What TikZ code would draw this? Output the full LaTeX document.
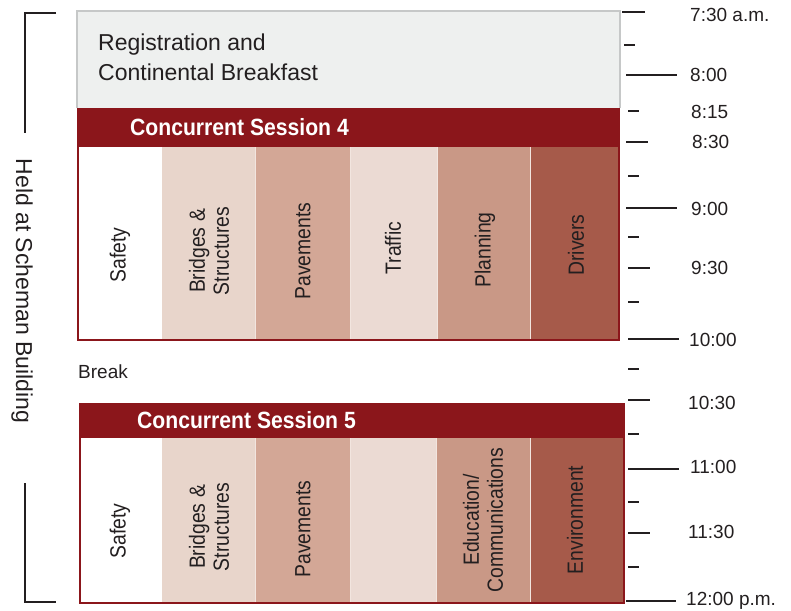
\documentclass[tikz,border=0pt]{standalone}
\usepackage{fontspec}
\setmainfont{Liberation Sans}
\newfontfamily\condf[FakeStretch=0.88]{Liberation Sans}
\newfontfamily\condb[FakeStretch=0.9]{Liberation Sans}
\definecolor{regfill}{HTML}{EEF0EF}
\definecolor{regline}{HTML}{C6C8C8}
\definecolor{hdr}{HTML}{8B161B}
\definecolor{cBr}{HTML}{E8D5CB}
\definecolor{cPa}{HTML}{D3A796}
\definecolor{cTr}{HTML}{EBDAD3}
\definecolor{cPl}{HTML}{C99886}
\definecolor{cDr}{HTML}{A65A4A}
\definecolor{ink}{HTML}{231F20}
\tikzset{
  collabel/.style={rotate=90, align=center, text=ink, inner sep=0pt,
    font=\condf\fontsize{22}{24}\selectfont},
  hdrtext/.style={text=white, inner sep=0pt, anchor=west,
    font=\condb\bfseries\fontsize{23.5}{26}\selectfont},
  timelabel/.style={anchor=west, inner sep=0pt, text=ink,
    font=\fontsize{19}{21}\selectfont},
  tick/.style={draw=ink, line width=2.6pt},
  bracket/.style={draw=ink, line width=2pt},
  sessborder/.style={draw=hdr, line width=2pt},
  sep/.style={draw=white!70!cPa, line width=0.6pt}
}
\begin{document}
\begin{tikzpicture}[x=1pt,y=-1pt]
\useasboundingbox (0,0) rectangle (791,610);
% Registration
\fill[regfill] (77,11) rectangle (620,108);
\draw[regline, line width=1.5pt] (77,108) -- (77,11) -- (620,11) -- (620,108);
\node[anchor=base west, align=left, inner sep=0pt, text=ink,
  font=\fontsize{23}{30}\selectfont] (reg) at (98,80)
  {Registration and\\Continental Breakfast};
% Session 4
\fill[hdr] (77,108) rectangle (620,147);
\node[hdrtext] (h4) at (130,127) {Concurrent Session 4};
\fill[white] (78,147) rectangle (162,340);
\fill[cBr] (162,147) rectangle (255,340);
\fill[cPa] (255,147) rectangle (350,340);
\fill[cTr] (350,147) rectangle (437,340);
\fill[cPl] (437,147) rectangle (530,340);
\fill[cDr] (530,147) rectangle (619,340);
\foreach \xx in {255,350,437,530} \draw[sep] (\xx,147) -- (\xx,339);
\draw[sessborder] (78,145) -- (78,340) -- (619,340) -- (619,145);
\node[collabel] (s4a) at (120,255) {Safety};
\node[collabel] (s4b) at (209,251) {Bridges \&\\Structures};
\node[collabel] (s4c) at (303,251) {Pavements};
\node[collabel] (s4d) at (393,248) {Traffic};
\node[collabel] (s4e) at (485,250) {Planning};
\node[collabel] (s4f) at (576,245) {Drivers};
% Break
\node[timelabel] (brk) at (78,372) {Break};
% Session 5
\fill[hdr] (79,403) rectangle (625,438);
\node[hdrtext] (h5) at (137,420) {Concurrent Session 5};
\fill[white] (80,438) rectangle (162,603);
\fill[cBr] (162,438) rectangle (255,603);
\fill[cPa] (255,438) rectangle (350,603);
\fill[cTr] (350,438) rectangle (436,603);
\fill[cPl] (436,438) rectangle (530,603);
\fill[cDr] (530,438) rectangle (624,603);
\foreach \xx in {255,350,436,530} \draw[sep] (\xx,438) -- (\xx,602);
\draw[sessborder] (80,436) -- (80,603) -- (624,603) -- (624,436);
\node[collabel] (s5a) at (120,531) {Safety};
\node[collabel] (s5b) at (209,527) {Bridges \&\\Structures};
\node[collabel] (s5c) at (303,529) {Pavements};
\node[collabel] (s5e) at (483,520) {Education/\\Communications};
\node[collabel] (s5f) at (575,520) {Environment};
% Held at bracket
\draw[bracket] (56,13) -- (25,13) -- (25,133);
\draw[bracket] (25,483) -- (25,602) -- (56,602);
\node[rotate=-90, inner sep=0pt, text=ink, font=\fontsize{23}{25}\selectfont]
  (held) at (22,291) {Held at Scheman Building};
% Time scale
\draw[tick] (622,12) -- (645,12);
\draw[tick] (624,45) -- (635,45);
\draw[tick] (626,75) -- (677,75);
\draw[tick] (628,111) -- (639,111);
\draw[tick] (626,142) -- (648,142);
\draw[tick] (628,176) -- (639,176);
\draw[tick] (626,208) -- (677,208);
\draw[tick] (628,237) -- (639,237);
\draw[tick] (628,268) -- (650,268);
\draw[tick] (628,302) -- (639,302);
\draw[tick] (628,339) -- (679,339);
\draw[tick] (628,369) -- (639,369);
\draw[tick] (628,400) -- (650,400);
\draw[tick] (628,434) -- (639,434);
\draw[tick] (628,469) -- (679,469);
\draw[tick] (628,502) -- (639,502);
\draw[tick] (628,533) -- (650,533);
\draw[tick] (628,567) -- (639,567);
\draw[tick] (626,601) -- (676,601);
\node[timelabel] (t730) at (690,15) {7:30 a.m.};
\node[timelabel] (t800) at (690,75) {8:00};
\node[timelabel] (t815) at (691,112) {8:15};
\node[timelabel] (t830) at (692,142) {8:30};
\node[timelabel] (t900) at (691,209) {9:00};
\node[timelabel] (t930) at (691,268) {9:30};
\node[timelabel] (t1000) at (689,340) {10:00};
\node[timelabel] (t1030) at (688,403) {10:30};
\node[timelabel] (t1100) at (690,467) {11:00};
\node[timelabel] (t1130) at (688,532) {11:30};
\node[timelabel] (t1200) at (686,601) {12:00 p.m.};
\end{tikzpicture}
\end{document}
